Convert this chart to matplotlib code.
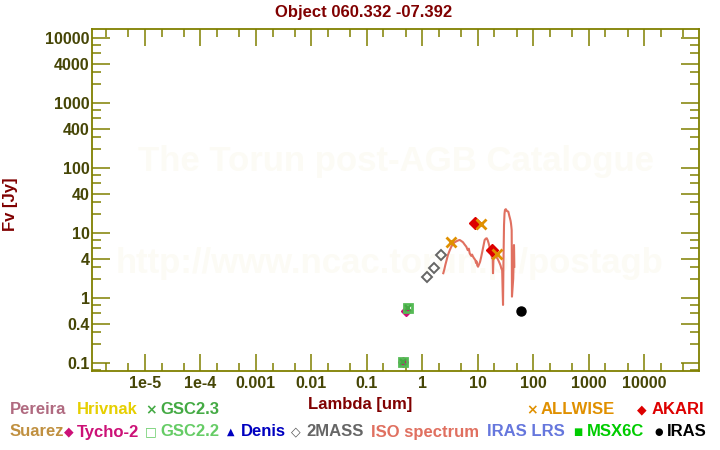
import matplotlib
matplotlib.use("Agg")
import matplotlib.pyplot as plt
from matplotlib.ticker import FixedLocator, NullFormatter, FixedFormatter

# ---------------- data ----------------
tycho_wl = [0.44, 0.50]
tycho_fx = [0.103, 0.64]
gsc22_wl = [0.45, 0.56]
gsc22_fx = [0.106, 0.70]
gsc23_wl = [0.45, 0.56]
gsc23_fx = [0.106, 0.70]
mass2_wl = [1.23, 1.65, 2.17]
mass2_fx = [2.10, 2.89, 4.59]
allwise_wl = [3.35, 11.4, 22.5]
allwise_fx = [7.27, 13.7, 4.8]
akari_wl = [9.0, 18.0]
akari_fx = [14.3, 5.5]
iras_wl = [60.8]
iras_fx = [0.63]

iso_wl = [2.39, 2.50, 2.60, 2.75, 2.90, 3.10, 3.33, 3.55, 3.84, 4.20, 4.50, 4.72,
          5.05, 5.41, 5.80, 6.21, 6.60, 6.90, 7.15, 7.60, 7.90, 8.20, 8.60, 9.02,
          9.30, 9.50, 9.80, 10.1, 10.5, 11.0, 11.5, 12.05, 12.7, 13.3, 14.0, 14.5,
          15.1, 15.7, 16.4, 17.1, 17.6, 18.2, 18.5, 18.8, 19.2, 20.2, 21.3, 22.5,
          23.6, 24.8, 25.7, 26.5, 27.5, 28.0, 28.5, 29.0, 29.7, 30.3, 30.9, 32.0,
          33.5, 35.5, 37.0, 38.0, 39.0, 39.6, 40.3, 40.8, 41.0, 41.3, 43.5, 44.9, 45.5]
iso_fx = [2.43, 2.8, 3.25, 3.9, 4.64, 5.4, 6.22, 6.8, 7.28, 7.6, 7.8, 7.89,
          7.6, 7.28, 6.7, 6.22, 5.5, 5.8, 4.92, 4.5, 4.7, 4.37, 4.1, 3.88,
          3.5, 3.7, 3.2, 3.06, 3.3, 3.65, 4.3, 5.21, 6.5, 7.89, 8.3, 8.38,
          7.8, 7.01, 6.0, 5.21, 4.6, 4.12, 5.0, 2.43, 4.3, 4.64, 4.3, 4.12,
          3.8, 3.45, 3.2, 2.9, 2.7, 1.4, 0.79, 3.5, 13.4, 20.0, 22.9, 23.5,
          22.0, 21.5, 18.5, 17.0, 15.5, 14.3, 12.5, 11.2, 5.0, 1.06, 2.0, 6.6, 3.06]

yticks_major = [0.1, 0.4, 1, 4, 10, 40, 100, 400, 1000, 4000, 10000]
ytick_labels = ["0.1", "0.4", "1", "4", "10", "40", "100", "400", "1000", "4000", "10000"]
xticks_major = [1e-5, 1e-4, 1e-3, 1e-2, 1e-1, 1, 10, 100, 1000, 10000]
xtick_labels = ["1e-5", "1e-4", "0.001", "0.01", "0.1", "1", "10", "100", "1000", "10000"]

# ---------------- style ----------------
FONT = ["Liberation Sans", "DejaVu Sans"]
plt.rcParams["font.family"] = FONT
OLIVE = "#808000"
TICKLAB = "#464606"
DARKRED = "#800000"

fig = plt.figure(figsize=(7.2, 4.5), dpi=100)
L, R, B, T = 92.3 / 720, 699 / 720, 1 - 370.7 / 450, 1 - 29.3 / 450
ax = fig.add_axes([L, B, R - L, T - B])
ax.set_xscale("log")
ax.set_yscale("log")
ax.set_xlim(10 ** -5.946, 10 ** 4.986)
ax.set_ylim(10 ** -1.114, 10 ** 4.138)

for s in ax.spines.values():
    s.set_color(OLIVE)
    s.set_linewidth(1.3)

# ticks
ax.xaxis.set_major_locator(FixedLocator(xticks_major))
ax.xaxis.set_major_formatter(FixedFormatter(xtick_labels))
xminor = []
for e in range(-6, 5):
    for m in (2, 5):
        xminor.append(m * 10.0 ** e)
ax.xaxis.set_minor_locator(FixedLocator(xminor))
ax.xaxis.set_minor_formatter(NullFormatter())

ax.yaxis.set_major_locator(FixedLocator(yticks_major))
ax.yaxis.set_major_formatter(FixedFormatter(ytick_labels))
yminor = []
for e in range(-2, 5):
    for m in (2, 3, 6, 8):
        yminor.append(m * 10.0 ** e)
ax.yaxis.set_minor_locator(FixedLocator(yminor))
ax.yaxis.set_minor_formatter(NullFormatter())

ax.tick_params(axis="x", which="major", direction="in", length=12, width=1.1,
               color=OLIVE, top=True, bottom=True, pad=4,
               labelsize=11.5, labelcolor=TICKLAB)
ax.tick_params(axis="x", which="minor", direction="in", length=6, width=1.1,
               color=OLIVE, top=True, bottom=True)
ax.tick_params(axis="y", which="major", direction="in", length=13, width=1.1,
               color=OLIVE, left=True, right=True, pad=2,
               labelsize=11.5, labelcolor=TICKLAB)
ax.tick_params(axis="y", which="minor", direction="in", length=6.5, width=1.1,
               color=OLIVE, left=True, right=True)
for lab in ax.get_xticklabels() + ax.get_yticklabels():
    lab.set_fontweight("bold")

# watermark
WM = "#fcfbf5"
ax.text(0.5, 1 - (162 - 29.3) / (370.7 - 29.3), "The Torun post-AGB Catalogue",
        transform=ax.transAxes, ha="center", va="center", fontsize=25,
        fontweight="bold", color=WM, zorder=0)
ax.text(0.49, 1 - (264 - 29.3) / (370.7 - 29.3), "http://www.ncac.torun.pl/postagb",
        transform=ax.transAxes, ha="center", va="center", fontsize=25,
        fontweight="bold", color=WM, zorder=0)

# data
ax.plot(iso_wl, iso_fx, color="#e07060", lw=1.5, zorder=3)
ax.plot(tycho_wl, tycho_fx, ls="none", marker="D", ms=5, color="#cc1177", zorder=4)
ax.plot(gsc22_wl, gsc22_fx, ls="none", marker="s", ms=6, mfc="none",
        mec="#55bb55", mew=2, zorder=5)
ax.plot(gsc23_wl, gsc23_fx, ls="none", marker="x", ms=4, mew=1.5,
        color="#44aa44", zorder=5)
ax.plot(mass2_wl, mass2_fx, ls="none", marker="D", ms=5, mfc="none",
        mec="#666666", mew=1.4, zorder=4)
ax.plot(akari_wl, akari_fx, ls="none", marker="D", ms=6.5, color="#dd0000", zorder=5)
ax.plot(allwise_wl, allwise_fx, ls="none", marker="x", ms=6.5, mew=2,
        color="#e09000", zorder=6)
ax.plot(iras_wl, iras_fx, ls="none", marker="o", ms=6.5, color="black", zorder=5)

# titles
fig.text(364 / 720, 1 - 12 / 450, "Object 060.332 -07.392", ha="center", va="center",
         fontsize=12, fontweight="bold", color=DARKRED)
fig.text(360 / 720, 1 - 405 / 450, "Lambda [um]", ha="center", va="center",
         fontsize=12, fontweight="bold", color=DARKRED)
fig.text(10 / 720, 1 - 204 / 450, "Fv [Jy]", ha="center", va="center", rotation=90,
         fontsize=12, fontweight="bold", color=DARKRED)

# legend (two text rows)
def leg(x, y, s, c, size=12, fam=None):
    fig.text(x / 720, 1 - y / 450, s, ha="left", va="center", fontsize=size,
             fontweight="bold", color=c, family=fam if fam else FONT)

SYM = ["DejaVu Sans"]
r1, r2 = 410, 432
leg(10, r1, "Pereira", "#b06a80")
leg(77, r1, "Hrivnak", "#e6cf00")
leg(145, r1, "\u00d7", "#44aa44", 10, SYM)
leg(160, r1, "GSC2.3", "#44aa44")
leg(526, r1, "\u00d7", "#e09000", 10, SYM)
leg(541, r1, "ALLWISE", "#e09000")
leg(637, r1, "\u25c6", "#dd0000", 9, SYM)
leg(652, r1, "AKARI", "#dd0000")

leg(10, r2, "Suarez", "#c09040")
leg(64, r2, "\u25c6", "#cc1177", 9, SYM)
leg(77, r2, "Tycho-2", "#cc1177")
leg(145, r2, "\u25a1", "#66cc66", 9, SYM)
leg(160, r2, "GSC2.2", "#66cc66")
leg(227, r2, "\u25b2", "#0000c0", 7, SYM)
leg(241, r2, "Denis", "#0000c0")
leg(291, r2, "\u25c7", "#555555", 9, SYM)
leg(306, r2, "2MASS", "#666666")
leg(371, r2, "ISO spectrum", "#e07060")
leg(487, r2, "IRAS LRS", "#6677dd")
leg(573, r2, "\u25a0", "#00cc00", 7, SYM)
leg(587, r2, "MSX6C", "#00cc00")
leg(654, r2, "\u25cf", "#000000", 7, SYM)
leg(667, r2, "IRAS", "#000000")

fig.savefig("out.png", dpi=100)
